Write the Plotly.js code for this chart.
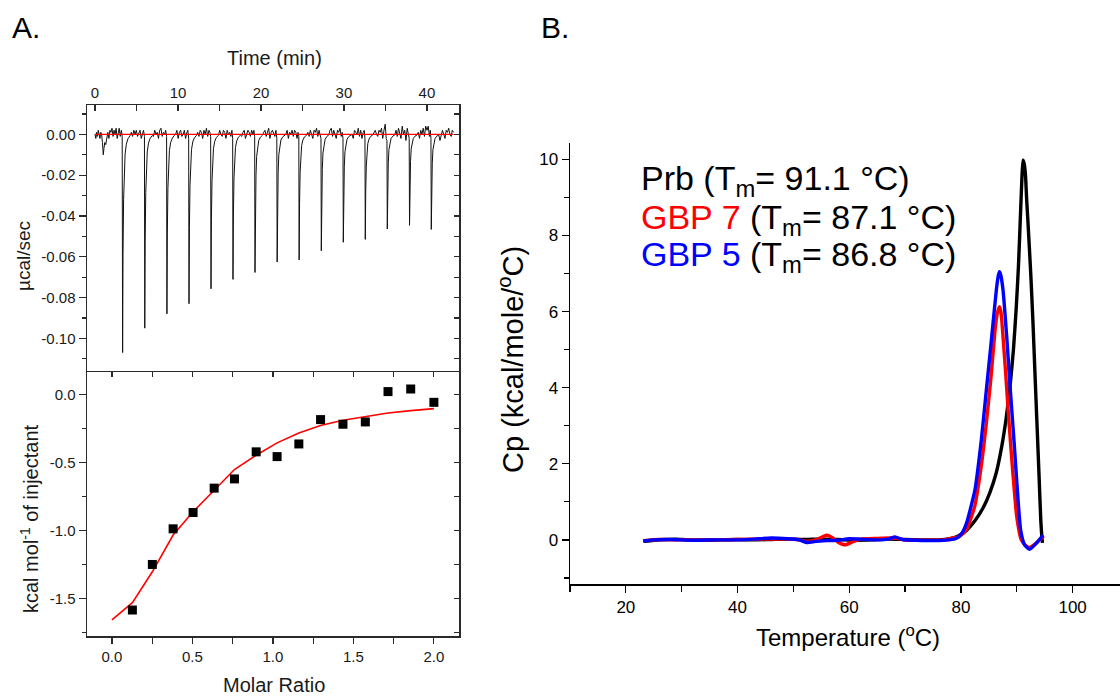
<!DOCTYPE html>
<html>
<head>
<meta charset="utf-8">
<script src="https://cdn.plot.ly/plotly-3.0.1.min.js"></script>
<style>html,body{margin:0;padding:0;background:#fff;}#chart{width:1120px;height:696px;}</style>
</head>
<body>
<div id="chart"></div>
<script>
// ---------- Panel A (top): raw ITC thermogram ----------
const itcTime = [
 0.00,0.10,0.20,0.30,0.40,0.50,0.60,0.70,0.80,0.90,1.00,1.08,1.18,1.30,1.42,1.55,1.68,1.80,1.92,2.05,2.18,2.30,2.42,2.55,2.68,2.80,2.92,3.05,3.18,3.28,
 3.33,3.38,3.45,3.53,3.63,3.78,3.98,4.23,4.38,4.53,4.68,4.83,4.98,5.13,5.28,5.43,5.58,5.73,5.85,5.96,
 6.00,6.05,6.12,6.20,6.30,6.45,6.65,6.90,7.05,7.20,7.35,7.50,7.65,7.80,7.95,8.10,8.25,8.40,8.52,8.63,
 8.67,8.72,8.79,8.87,8.97,9.12,9.32,9.57,9.72,9.87,10.02,10.17,10.32,10.47,10.62,10.77,10.92,11.07,11.19,11.29,
 11.33,11.38,11.45,11.53,11.63,11.78,11.98,12.23,12.38,12.53,12.68,12.83,12.98,13.13,13.28,13.43,13.58,13.73,13.85,13.94,
 13.98,14.03,14.10,14.18,14.28,14.43,14.63,14.88,15.03,15.18,15.33,15.48,15.63,15.78,15.93,16.08,16.23,16.38,16.50,16.59,
 16.63,16.68,16.75,16.83,16.93,17.08,17.28,17.53,17.68,17.83,17.98,18.13,18.28,18.43,18.58,18.73,18.88,19.03,19.15,19.24,
 19.28,19.33,19.40,19.48,19.58,19.73,19.93,20.18,20.33,20.48,20.63,20.78,20.93,21.08,21.23,21.38,21.53,21.68,21.80,21.91,
 21.95,22.00,22.07,22.15,22.25,22.40,22.60,22.85,23.00,23.15,23.30,23.45,23.60,23.75,23.90,24.05,24.20,24.35,24.47,24.56,
 24.60,24.65,24.72,24.80,24.90,25.05,25.25,25.50,25.65,25.80,25.95,26.10,26.25,26.40,26.55,26.70,26.85,27.00,27.12,27.23,
 27.27,27.32,27.39,27.47,27.57,27.72,27.92,28.17,28.32,28.47,28.62,28.77,28.92,29.07,29.22,29.37,29.52,29.67,29.79,29.88,
 29.92,29.97,30.04,30.12,30.22,30.37,30.57,30.82,30.97,31.12,31.27,31.42,31.57,31.72,31.87,32.02,32.17,32.32,32.44,32.53,
 32.57,32.62,32.69,32.77,32.87,33.02,33.22,33.47,33.62,33.77,33.92,34.07,34.22,34.37,34.52,34.67,34.82,34.97,35.09,35.18,
 35.22,35.27,35.34,35.42,35.52,35.67,35.87,36.12,36.27,36.42,36.57,36.72,36.87,37.02,37.17,37.32,37.47,37.62,37.74,37.86,
 37.90,37.95,38.02,38.10,38.20,38.35,38.55,38.80,38.95,39.10,39.25,39.40,39.55,39.70,39.85,40.00,40.15,40.30,40.40,40.48,
 40.52,40.57,40.64,40.72,40.82,40.97,41.17,41.42,41.57,41.72,41.87,42.02,42.17,42.32,42.47,42.62,42.77,42.92,43.05,43.20
];
const itcPower = [
 0.000,-0.002,0.001,-0.001,0.002,0.000,-0.002,0.001,0.000,-0.004,-0.010,-0.007,-0.004,-0.005,-0.002,0.001,-0.002,0.002,0.001,0.003,-0.001,0.002,0.000,0.003,-0.002,0.002,0.003,-0.001,0.002,-0.001,
 -0.107,-0.0589,-0.0321,-0.0171,-0.0096,-0.0048,-0.0021,-0.0006,0.001,-0.001,0.002,0.000,0.002,-0.001,0.001,0.002,-0.002,0.001,0.002,-0.001,
 -0.095,-0.0523,-0.0285,-0.0152,-0.0086,-0.0043,-0.0019,-0.0006,-0.001,0.002,0.000,0.001,-0.002,0.002,0.003,-0.001,0.001,0.000,0.002,-0.001,
 -0.088,-0.0484,-0.0264,-0.0141,-0.0079,-0.0040,-0.0018,-0.0005,0.000,0.002,-0.002,0.001,0.002,-0.001,0.000,0.002,-0.002,0.001,0.002,-0.002,
 -0.083,-0.0457,-0.0249,-0.0133,-0.0075,-0.0037,-0.0017,-0.0005,0.001,-0.001,0.002,0.001,-0.002,0.002,0.000,0.003,-0.001,0.002,0.001,-0.001,
 -0.0757,-0.0416,-0.0227,-0.0121,-0.0068,-0.0034,-0.0015,-0.0005,0.002,0.000,-0.001,0.002,0.001,-0.002,0.002,0.000,0.001,-0.001,0.002,-0.002,
 -0.0711,-0.0391,-0.0213,-0.0114,-0.0064,-0.0032,-0.0014,-0.0004,-0.001,0.001,0.002,-0.002,0.000,0.002,0.001,-0.001,0.002,0.000,0.002,-0.001,
 -0.0677,-0.0372,-0.0203,-0.0108,-0.0061,-0.0030,-0.0014,-0.0004,0.001,0.002,-0.001,0.001,0.003,-0.002,0.001,0.002,0.000,-0.001,0.002,-0.002,
 -0.0626,-0.0344,-0.0188,-0.0100,-0.0056,-0.0028,-0.0013,-0.0004,0.000,0.002,-0.002,0.001,0.000,0.002,-0.001,0.002,0.001,-0.002,0.001,-0.001,
 -0.0616,-0.0339,-0.0185,-0.0099,-0.0055,-0.0028,-0.0012,-0.0004,0.001,-0.001,0.002,0.000,-0.002,0.002,0.001,0.003,-0.001,0.002,0.000,-0.002,
 -0.0571,-0.0314,-0.0171,-0.0091,-0.0051,-0.0026,-0.0011,-0.0003,0.002,0.003,-0.001,0.002,0.000,-0.002,0.002,0.001,0.003,-0.001,0.001,-0.002,
 -0.0529,-0.0291,-0.0159,-0.0085,-0.0048,-0.0024,-0.0011,-0.0003,0.000,-0.002,0.002,0.001,0.000,0.003,-0.001,0.002,-0.002,0.001,0.002,-0.002,
 -0.0515,-0.0283,-0.0155,-0.0082,-0.0046,-0.0023,-0.0010,-0.0003,0.001,0.002,0.000,-0.001,0.002,0.001,0.003,-0.002,0.002,0.005,-0.002,-0.003,
 -0.0464,-0.0255,-0.0139,-0.0074,-0.0042,-0.0021,-0.0009,-0.0003,0.002,-0.001,0.003,0.001,-0.002,0.004,0.000,0.002,-0.003,0.003,0.001,-0.002,
 -0.0446,-0.0245,-0.0134,-0.0071,-0.0040,-0.0020,-0.0009,-0.0003,0.001,-0.002,0.002,0.000,0.003,-0.001,0.004,0.002,0.004,-0.001,0.002,-0.002,
 -0.0466,-0.0256,-0.0140,-0.0075,-0.0042,-0.0021,-0.0009,-0.0003,-0.003,-0.001,0.002,0.000,-0.002,0.002,0.001,0.003,0.000,-0.001,0.002,0.001
];
const baselineTime = [0, 43.2];
const baselinePower = [0, 0];
const timeTicks = [0, 10, 20, 30, 40];
const powerTicks = [0, -0.02, -0.04, -0.06, -0.08, -0.10];
const powerTickText = ['0.00', '-0.02', '-0.04', '-0.06', '-0.08', '-0.10'];

// ---------- Panel A (bottom): integrated heats ----------
const molarRatio = [0.127, 0.251, 0.380, 0.504, 0.635, 0.761, 0.896, 1.026, 1.161, 1.296, 1.435, 1.574, 1.715, 1.856, 2.000];
const heatPerMol = [-1.586, -1.251, -0.989, -0.869, -0.690, -0.622, -0.423, -0.458, -0.365, -0.186, -0.220, -0.203, 0.020, 0.039, -0.059];
const fitRatio = [0.0, 0.127, 0.251, 0.380, 0.504, 0.635, 0.761, 0.896, 1.026, 1.161, 1.296, 1.435, 1.574, 1.715, 1.856, 2.000];
const fitHeat = [-1.659, -1.532, -1.305, -1.035, -0.864, -0.705, -0.553, -0.448, -0.357, -0.284, -0.230, -0.191, -0.162, -0.137, -0.120, -0.105];
const ratioTicks = [0, 0.5, 1.0, 1.5, 2.0];
const ratioTickText = ['0.0', '0.5', '1.0', '1.5', '2.0'];
const heatTicks = [0, -0.5, -1.0, -1.5];
const heatTickText = ['0.0', '-0.5', '-1.0', '-1.5'];

// ---------- Panel B: DSC ----------
const prbT  = [23.2,25,27,29,31,34,37,40,43,46,49,52,55,58,61,64,67,70,73,76,78,79.5,81,82.5,84,85.2,86.3,87.3,88.1,88.8,89.4,89.9,90.3,90.7,90.9,91.1,91.3,91.55,91.75,92.0,92.5,92.9,93.25,93.6,93.97,94.3,94.5,94.6];
const prbCp = [-0.04,-0.01,0.01,0.02,0.0,-0.01,0.0,0.01,0.0,0.01,0.02,0.01,0.02,0.01,-0.01,0.0,0.02,0.01,0.0,0.0,0.03,0.1,0.25,0.5,0.85,1.25,1.75,2.45,3.2,4.05,5.0,6.1,7.2,8.7,9.45,9.98,9.9,9.6,9.0,8.35,7.0,5.7,4.4,3.1,1.75,0.5,0.05,-0.08];
const gbp7T  = [23.1,26,30,35,40,45,49,51,52.5,54,55.2,56,57,58,59.3,60.5,62,65,67.5,68.5,70,74,77,78.5,79.7,81,82.5,83.6,84.5,85.4,86.1,86.5,86.9,87.2,87.4,88.0,88.6,89.3,90.0,90.8,91.6,92.3,93.0,93.7,94.3,94.8];
const gbp7Cp = [-0.02,0.01,0.0,0.0,0.01,0.02,0.02,0.0,-0.04,0.0,0.08,0.12,0.06,-0.06,-0.13,-0.06,0.02,0.04,0.05,0.04,0.0,-0.01,0.0,0.05,0.09,0.27,0.9,1.9,3.0,4.3,5.5,5.95,6.13,5.95,5.6,4.4,3.1,1.75,0.6,0.0,-0.15,-0.2,-0.14,-0.05,0.03,0.1];
const gbp5T  = [23.1,25,28,32,36,40,43,46,49,51,52.5,54,56,58,60,62,65,67,68.2,69.5,72,75,77.9,79.2,80.2,81.0,82.5,83.65,84.55,85.45,86.34,86.7,86.9,87.15,87.53,88.24,88.84,89.49,90.1,90.69,91.4,92.3,93.5,94.7];
const gbp5Cp = [-0.03,0.0,0.01,-0.01,0.0,0.0,0.02,0.05,0.03,0.0,-0.07,-0.04,-0.02,-0.01,0.03,0.02,0.0,0.02,0.08,0.01,-0.01,-0.02,0.0,0.04,0.18,0.44,1.31,2.63,3.94,5.25,6.57,6.95,7.05,6.95,6.57,5.25,3.94,2.63,1.31,0.26,-0.13,-0.25,-0.09,0.13];

// ---------- helpers ----------
const W = 1120, H = 696;
const px = v => v / W;
const py = v => 1 - v / H;
const FONT = 'Liberation Sans, Arial, Helvetica, sans-serif';
const AX = '#2a2a2a';
const TXT = '#1a1a1a';

const traces = [
  {x: itcTime, y: itcPower, xaxis: 'x', yaxis: 'y', type: 'scatter', mode: 'lines',
   line: {color: '#111', width: 1}, hoverinfo: 'skip', showlegend: false},
  {x: baselineTime, y: baselinePower, xaxis: 'x', yaxis: 'y', type: 'scatter', mode: 'lines',
   line: {color: '#ff0000', width: 1.3}, hoverinfo: 'skip', showlegend: false},
  {x: [], y: [], xaxis: 'x', yaxis: 'y3', type: 'scatter', mode: 'lines', showlegend: false, hoverinfo: 'skip'},
  {x: fitRatio, y: fitHeat, xaxis: 'x2', yaxis: 'y2', type: 'scatter', mode: 'lines',
   line: {color: '#ff0000', width: 1.6}, hoverinfo: 'skip', showlegend: false},
  {x: molarRatio, y: heatPerMol, xaxis: 'x2', yaxis: 'y2', type: 'scatter', mode: 'markers',
   marker: {symbol: 'square', size: 9, color: '#000'}, hoverinfo: 'skip', showlegend: false},
  {x: [], y: [], xaxis: 'x4', yaxis: 'y2', type: 'scatter', mode: 'lines', showlegend: false, hoverinfo: 'skip'},
  {x: [], y: [], xaxis: 'x2', yaxis: 'y4', type: 'scatter', mode: 'lines', showlegend: false, hoverinfo: 'skip'},
  {x: prbT, y: prbCp, xaxis: 'x3', yaxis: 'y5', type: 'scatter', mode: 'lines',
   line: {color: '#000', width: 3.4, shape: 'spline', smoothing: 0.5}, name: 'Prb', showlegend: false},
  {x: gbp7T, y: gbp7Cp, xaxis: 'x3', yaxis: 'y5', type: 'scatter', mode: 'lines',
   line: {color: '#ff0000', width: 3.4, shape: 'spline', smoothing: 0.5}, name: 'GBP 7', showlegend: false},
  {x: gbp5T, y: gbp5Cp, xaxis: 'x3', yaxis: 'y5', type: 'scatter', mode: 'lines',
   line: {color: '#0000ff', width: 3.4, shape: 'spline', smoothing: 0.5}, name: 'GBP 5', showlegend: false}
];

const domAx = [px(87), px(459)];
const domTop = [py(372), py(105)];
const domBot = [py(636), py(372)];
const tickFontA = {family: FONT, size: 15, color: TXT};
const tickFontB = {family: FONT, size: 17, color: '#000'};
const baseA = {showline: true, linecolor: AX, linewidth: 1.5, showgrid: false, zeroline: false, tickcolor: AX, tickwidth: 1.2, tickfont: tickFontA};

const layout = {
  width: W, height: H,
  margin: {l: 0, r: 0, t: 0, b: 0},
  paper_bgcolor: '#fff', plot_bgcolor: 'rgba(0,0,0,0)',
  showlegend: false,
  font: {family: FONT, color: TXT},
  xaxis: Object.assign({}, baseA, {
    domain: domAx, anchor: 'y', side: 'top', range: [-0.96, 43.86],
    tickmode: 'array', tickvals: timeTicks, ticks: 'inside', ticklen: 6,
    minor: {tickmode: 'linear', tick0: 0, dtick: 5, ticks: 'inside', ticklen: 6, tickcolor: AX, tickwidth: 1.2}
  }),
  yaxis: Object.assign({}, baseA, {
    domain: domTop, anchor: 'x', range: [-0.1165, 0.0144],
    tickmode: 'array', tickvals: powerTicks, ticktext: powerTickText, ticks: 'outside', ticklen: 7,
    minor: {tickmode: 'linear', tick0: 0, dtick: 0.01, ticks: 'outside', ticklen: 4, tickcolor: AX, tickwidth: 1.2}
  }),
  yaxis3: Object.assign({}, baseA, {
    overlaying: 'y', side: 'right', anchor: 'x', range: [-0.1165, 0.0144],
    tickmode: 'linear', tick0: 0, dtick: 0.01, ticks: 'inside', ticklen: 5, showticklabels: false
  }),
  xaxis2: Object.assign({}, baseA, {
    domain: domAx, anchor: 'y2', range: [-0.155, 2.156],
    tickmode: 'array', tickvals: ratioTicks, ticktext: ratioTickText, ticks: 'outside', ticklen: 6,
    minor: {tickmode: 'linear', tick0: 0, dtick: 0.25, ticks: 'outside', ticklen: 6, tickcolor: AX, tickwidth: 1.2}
  }),
  xaxis4: Object.assign({}, baseA, {
    overlaying: 'x2', side: 'top', anchor: 'y2', range: [-0.155, 2.156],
    tickmode: 'linear', tick0: 0, dtick: 0.25, ticks: 'inside', ticklen: 5, showticklabels: false
  }),
  yaxis2: Object.assign({}, baseA, {
    domain: domBot, anchor: 'x2', range: [-1.777, 0.164],
    tickmode: 'array', tickvals: heatTicks, ticktext: heatTickText, ticks: 'outside', ticklen: 7,
    minor: {tickmode: 'linear', tick0: 0, dtick: 0.25, ticks: 'outside', ticklen: 4, tickcolor: AX, tickwidth: 1.2}
  }),
  yaxis4: Object.assign({}, baseA, {
    overlaying: 'y2', side: 'right', anchor: 'x2', range: [-1.777, 0.164],
    tickmode: 'linear', tick0: 0, dtick: 0.25, ticks: 'inside', ticklen: 5, showticklabels: false
  }),
  xaxis3: {
    domain: [px(570), 1], anchor: 'y5', range: [10, 108.48],
    showline: true, linecolor: '#000', linewidth: 1.5, showgrid: false, zeroline: false,
    tickmode: 'linear', tick0: 0, dtick: 20, ticks: 'outside', ticklen: 7, tickcolor: '#000', tickwidth: 1.3,
    minor: {tickmode: 'linear', tick0: 0, dtick: 10, ticks: 'outside', ticklen: 6, tickcolor: '#000', tickwidth: 1.3},
    tickfont: tickFontB
  },
  yaxis5: {
    domain: [py(584), py(142.7)], anchor: 'x3', range: [-1.16, 10.44],
    showline: true, linecolor: '#000', linewidth: 1.5, showgrid: false, zeroline: false,
    tickmode: 'linear', tick0: 0, dtick: 2, ticks: 'outside', ticklen: 7, tickcolor: '#000', tickwidth: 1.3,
    minor: {tickmode: 'linear', tick0: 0, dtick: 1, ticks: 'outside', ticklen: 5, tickcolor: '#000', tickwidth: 1.3},
    tickfont: tickFontB
  },
  annotations: [
    {text: 'A.', x: px(10), y: py(27), xanchor: 'left', yanchor: 'middle', font: {size: 30, color: '#000'}},
    {text: 'B.', x: px(539), y: py(27), xanchor: 'left', yanchor: 'middle', font: {size: 30, color: '#000'}},
    {text: 'Time (min)', x: px(274), y: py(58), xanchor: 'center', yanchor: 'middle', font: {size: 20, color: TXT}},
    {text: 'µcal/sec', x: px(23), y: py(256), textangle: -90, xanchor: 'center', yanchor: 'middle', font: {size: 19, color: TXT}},
    {text: 'kcal mol<sup>-1</sup> of injectant', x: px(29), y: py(519), textangle: -90, xanchor: 'center', yanchor: 'middle', font: {size: 20, color: TXT}},
    {text: 'Molar Ratio', x: px(274), y: py(685), xanchor: 'center', yanchor: 'middle', font: {size: 20, color: TXT}},
    {text: 'Temperature (<sup>o</sup>C)', x: px(848), y: py(636), xanchor: 'center', yanchor: 'middle', font: {size: 24, color: '#000'}},
    {text: 'Cp (kcal/mole/<sup>o</sup>C)', x: px(511), y: py(360), textangle: -90, xanchor: 'center', yanchor: 'middle', font: {size: 29, color: '#000'}},
    {text: 'Prb (T<sub>m</sub>= 91.1 °C)', x: px(639), y: py(181), xanchor: 'left', yanchor: 'middle', font: {size: 34, color: '#000'}},
    {text: '<span style="color:#ff0000">GBP 7</span> (T<sub>m</sub>= 87.1 °C)', x: px(639), y: py(219), xanchor: 'left', yanchor: 'middle', font: {size: 34, color: '#000'}},
    {text: '<span style="color:#0000ff">GBP 5</span> (T<sub>m</sub>= 86.8 °C)', x: px(639), y: py(257), xanchor: 'left', yanchor: 'middle', font: {size: 34, color: '#000'}}
  ].map(a => Object.assign({xref: 'paper', yref: 'paper', showarrow: false}, a, {font: Object.assign({family: FONT}, a.font)}))
};

Plotly.newPlot('chart', traces, layout, {staticPlot: true, displayModeBar: false});
</script>
</body>
</html>
